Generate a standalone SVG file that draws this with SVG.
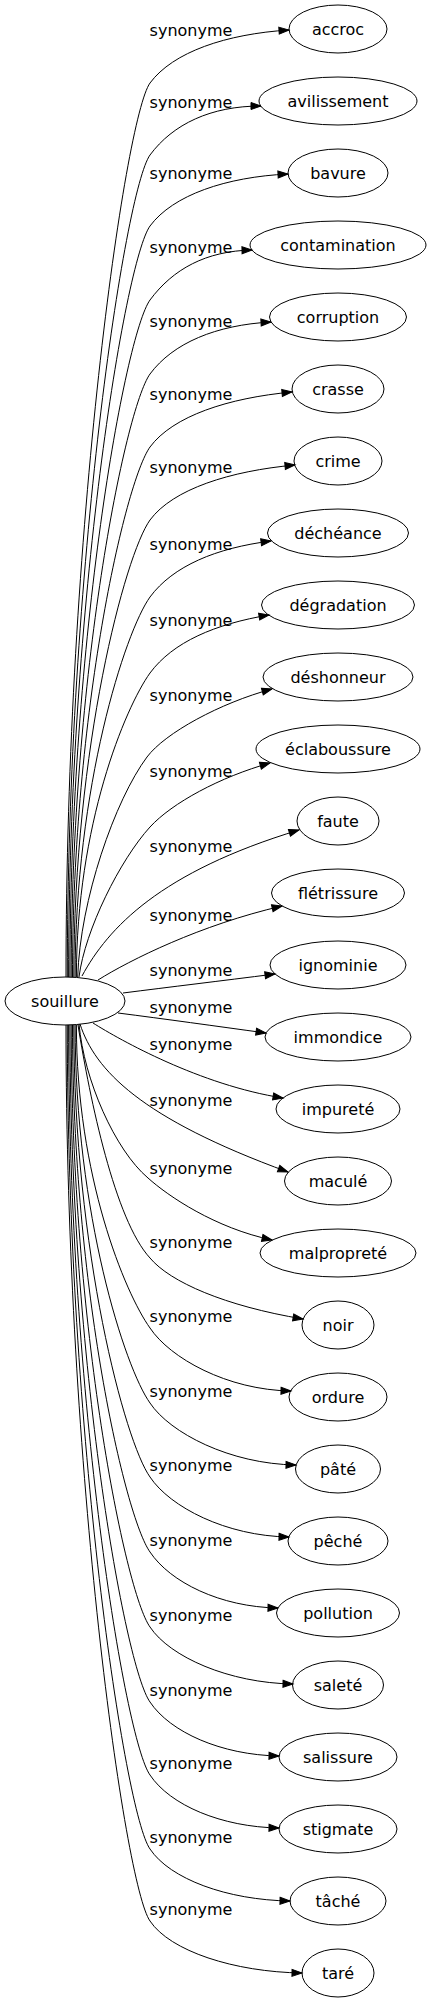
<svg xmlns="http://www.w3.org/2000/svg" width="432" height="2003" viewBox="0 0 432 2003">
<style>
text{font-family:"DejaVu Sans","Liberation Sans",sans-serif;font-size:16px;fill:#000;text-anchor:middle}
ellipse{fill:none;stroke:#000;stroke-width:1}
.e path{fill:none;stroke:#000;stroke-width:1;marker-end:url(#ah)}
</style>
<defs>
<marker id="ah" markerUnits="userSpaceOnUse" markerWidth="10" markerHeight="7" viewBox="0 0 10 7" refX="10" refY="3.5" orient="auto" overflow="visible"><path d="M0,0 L10,3.5 L0,7 z" fill="#000" stroke="#000" stroke-width="1"/></marker>
</defs>
<rect width="432" height="2003" fill="#fff"/>
<g id="edges" class="e">
<path d="M66,977 C66,530 125,118 150,83 C173,52 226,34 289,30"/>
<path d="M67.3,977 C67.3,566 125,190 150,155 C173,124 211,106 261,106"/>
<path d="M68.6,977 C68.6,601 125,261 150,226 C173,195 226,177 288,174"/>
<path d="M69.9,977 C69.9,638 125,335 150,300 C173,269 206,251 252,250"/>
<path d="M71.2,977 C71.2,675 125,409 150,374 C173,343 216,325 271,322"/>
<path d="M72.5,977 C72.5,712 125,482 150,447 C173,416 228,398 292,392"/>
<path d="M73.8,977 C73.8,748 125,555 150,520 C173,489 230,471 295,465"/>
<path d="M75.1,977 C75.1,787 125,632 150,597 C173,566 216,548 271,541"/>
<path d="M76.4,977 C76.4,825 125,708 150,673 C173,642 215,624 269,615"/>
<path d="M77.7,977 C80,900 115,800 147,757 C165,733 220,703 272,689"/>
<path d="M79,977 C85,930 120,860 150,827 C172,803 220,777 270,763"/>
<path d="M82,976 C108,928 160,872 299,830"/>
<path d="M98,980 C130,960 200,925 282,906"/>
<path d="M123,993 C170,987 220,981 275,974"/>
<path d="M118,1013 C165,1019 215,1026 266,1033"/>
<path d="M93,1023 C120,1040 200,1085 283,1098"/>
<path d="M80,1024 C95,1070 140,1118 288,1172"/>
<path d="M79,1024 C84,1080 115,1150 148,1178 C168,1196 215,1228 272,1240"/>
<path d="M78,1025 C90,1100 115,1220 150,1258 C170,1282 225,1306 303,1319"/>
<path d="M76.4,1025 C76.4,1176 125,1293 150,1328 C170,1358 227,1390 291,1391"/>
<path d="M75.1,1025 C75.1,1214 125,1368 150,1403 C170,1433 230,1464 296,1465"/>
<path d="M73.8,1025 C73.8,1251 125,1442 150,1477 C170,1507 226,1536 289,1537"/>
<path d="M72.5,1025 C72.5,1288 125,1517 150,1552 C170,1582 220,1607 278,1608"/>
<path d="M71.2,1025 C71.2,1326 125,1592 150,1627 C170,1657 229,1683 293,1684"/>
<path d="M69.9,1025 C69.9,1363 125,1667 150,1702 C170,1732 221,1755 279,1756"/>
<path d="M68.6,1025 C68.6,1400 125,1740 150,1775 C170,1805 221,1827 279,1828"/>
<path d="M67.3,1025 C67.3,1437 125,1814 150,1849 C170,1879 227,1900 290,1901"/>
<path d="M66,1025 C66,1473 125,1886 150,1921 C170,1951 234,1972 302,1973"/>
</g>
<g id="edge-labels">
<text x="191" y="35.5">synonyme</text>
<text x="191" y="107.5">synonyme</text>
<text x="191" y="178.5">synonyme</text>
<text x="191" y="252.5">synonyme</text>
<text x="191" y="326.5">synonyme</text>
<text x="191" y="399.5">synonyme</text>
<text x="191" y="472.5">synonyme</text>
<text x="191" y="549.5">synonyme</text>
<text x="191" y="625.5">synonyme</text>
<text x="191" y="700.5">synonyme</text>
<text x="191" y="776.5">synonyme</text>
<text x="191" y="851.5">synonyme</text>
<text x="191" y="920.5">synonyme</text>
<text x="191" y="975.5">synonyme</text>
<text x="191" y="1012.5">synonyme</text>
<text x="191" y="1049.5">synonyme</text>
<text x="191" y="1105.5">synonyme</text>
<text x="191" y="1173.5">synonyme</text>
<text x="191" y="1247.5">synonyme</text>
<text x="191" y="1321.5">synonyme</text>
<text x="191" y="1396.5">synonyme</text>
<text x="191" y="1470.5">synonyme</text>
<text x="191" y="1545.5">synonyme</text>
<text x="191" y="1620.5">synonyme</text>
<text x="191" y="1695.5">synonyme</text>
<text x="191" y="1768.5">synonyme</text>
<text x="191" y="1842.5">synonyme</text>
<text x="191" y="1914.5">synonyme</text>
</g>
<g id="souillure"><ellipse cx="65" cy="1001" rx="60" ry="24"/><text x="65" y="1006.5">souillure</text></g>
<g id="accroc"><ellipse cx="338" cy="29" rx="49" ry="24"/><text x="338" y="34.5">accroc</text></g>
<g id="avilissement"><ellipse cx="338" cy="101" rx="79" ry="24"/><text x="338" y="106.5">avilissement</text></g>
<g id="bavure"><ellipse cx="338" cy="173" rx="50" ry="24"/><text x="338" y="178.5">bavure</text></g>
<g id="contamination"><ellipse cx="338" cy="245" rx="88" ry="24"/><text x="338" y="250.5">contamination</text></g>
<g id="corruption"><ellipse cx="338" cy="317" rx="68.5" ry="24"/><text x="338" y="322.5">corruption</text></g>
<g id="crasse"><ellipse cx="338" cy="389" rx="46" ry="24"/><text x="338" y="394.5">crasse</text></g>
<g id="crime"><ellipse cx="338" cy="461" rx="44" ry="24"/><text x="338" y="466.5">crime</text></g>
<g id="decheance"><ellipse cx="338" cy="533" rx="70.5" ry="24"/><text x="338" y="538.5">déchéance</text></g>
<g id="degradation"><ellipse cx="338" cy="605" rx="76.5" ry="24"/><text x="338" y="610.5">dégradation</text></g>
<g id="deshonneur"><ellipse cx="338" cy="677" rx="75" ry="24"/><text x="338" y="682.5">déshonneur</text></g>
<g id="eclaboussure"><ellipse cx="338" cy="749" rx="82" ry="24"/><text x="338" y="754.5">éclaboussure</text></g>
<g id="faute"><ellipse cx="338" cy="821" rx="41" ry="24"/><text x="338" y="826.5">faute</text></g>
<g id="fletrissure"><ellipse cx="338" cy="893" rx="66.5" ry="24"/><text x="338" y="898.5">flétrissure</text></g>
<g id="ignominie"><ellipse cx="338" cy="965" rx="68" ry="24"/><text x="338" y="970.5">ignominie</text></g>
<g id="immondice"><ellipse cx="338" cy="1037" rx="73" ry="24"/><text x="338" y="1042.5">immondice</text></g>
<g id="impurete"><ellipse cx="338" cy="1109" rx="62" ry="24"/><text x="338" y="1114.5">impureté</text></g>
<g id="macule"><ellipse cx="338" cy="1181" rx="53.5" ry="24"/><text x="338" y="1186.5">maculé</text></g>
<g id="malproprete"><ellipse cx="338" cy="1253" rx="78" ry="24"/><text x="338" y="1258.5">malpropreté</text></g>
<g id="noir"><ellipse cx="338" cy="1325" rx="36" ry="24"/><text x="338" y="1330.5">noir</text></g>
<g id="ordure"><ellipse cx="338" cy="1397" rx="49" ry="24"/><text x="338" y="1402.5">ordure</text></g>
<g id="pate"><ellipse cx="338" cy="1469" rx="42.5" ry="24"/><text x="338" y="1474.5">pâté</text></g>
<g id="peche"><ellipse cx="338" cy="1541" rx="50" ry="24"/><text x="338" y="1546.5">pêché</text></g>
<g id="pollution"><ellipse cx="338" cy="1613" rx="61.5" ry="24"/><text x="338" y="1618.5">pollution</text></g>
<g id="salete"><ellipse cx="338" cy="1685" rx="45.5" ry="24"/><text x="338" y="1690.5">saleté</text></g>
<g id="salissure"><ellipse cx="338" cy="1757" rx="59" ry="24"/><text x="338" y="1762.5">salissure</text></g>
<g id="stigmate"><ellipse cx="338" cy="1829" rx="59" ry="24"/><text x="338" y="1834.5">stigmate</text></g>
<g id="tache"><ellipse cx="338" cy="1901" rx="48" ry="24"/><text x="338" y="1906.5">tâché</text></g>
<g id="tare"><ellipse cx="338" cy="1973" rx="36" ry="24"/><text x="338" y="1978.5">taré</text></g>
</svg>
